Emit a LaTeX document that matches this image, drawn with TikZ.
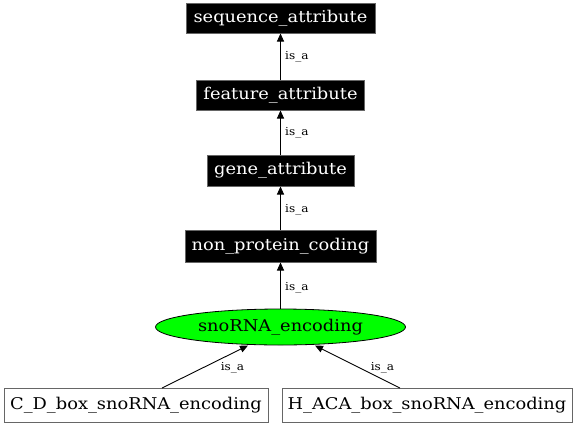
\documentclass[tikz,border=0pt]{standalone}
\usepackage{fontspec}
\setmainfont{DejaVu Serif}[FakeStretch=1.1]
\usetikzlibrary{shapes.geometric,arrows.meta}
\begin{document}
\begin{tikzpicture}[x=1pt,y=-1pt,
  mainfont/.style={font=\fontsize{16.2}{18}\selectfont},
  blackbox/.style={rectangle,fill=black,draw=black!60,line width=1pt,text=white,inner sep=0pt,mainfont},
  whitebox/.style={rectangle,fill=white,draw=black!60,line width=1pt,inner sep=0pt,mainfont},
  oval/.style={ellipse,fill=green,draw=black,line width=0.8pt,inner sep=0pt,mainfont},
  isa/.style={-{Triangle[length=8pt,width=7pt]},draw=black,line width=0.9pt},
  lbl/.style={font=\fontsize{11}{12}\selectfont,inner sep=0pt}]
\useasboundingbox (0,0) rectangle (576,426);
\node[blackbox,minimum width=189,minimum height=30] (seq) at (280.5,18) {sequence\_attribute};
\node[blackbox,minimum width=168,minimum height=30] (feat) at (280.5,95) {feature\_attribute};
\node[blackbox,minimum width=147,minimum height=31] (gene) at (280.5,170.5) {gene\_attribute};
\node[blackbox,minimum width=191,minimum height=32] (npc) at (280.5,246) {non\_protein\_coding};
\node[oval,minimum width=250,minimum height=36] (sno) at (280.5,327) {snoRNA\_encoding};
\node[whitebox,minimum width=264,minimum height=34] (cd) at (136,405) {C\_D\_box\_snoRNA\_encoding};
\node[whitebox,minimum width=290,minimum height=34] (haca) at (427,405) {H\_ACA\_box\_snoRNA\_encoding};
\draw[isa] (feat) -- (seq);
\draw[isa] (gene) -- (feat);
\draw[isa] (npc) -- (gene);
\draw[isa] (sno) -- (npc);
\node[lbl,anchor=west] (l1) at (285,57) {is\_a};
\node[lbl,anchor=west] (l2) at (285,133) {is\_a};
\node[lbl,anchor=west] (l3) at (285,210) {is\_a};
\node[lbl,anchor=west] (l4) at (285,288) {is\_a};
\node[lbl] (l5) at (232.5,368) {is\_a};
\node[lbl] (l6) at (382.5,368) {is\_a};
\coordinate (cdtop) at (162,388);
\coordinate (hacatop) at (400,388);
\coordinate (snoleft) at (248,345.5);
\coordinate (snoright) at (315,345.5);
\draw[isa] (cdtop) -- (snoleft);
\draw[isa] (hacatop) -- (snoright);
\end{tikzpicture}
\end{document}
